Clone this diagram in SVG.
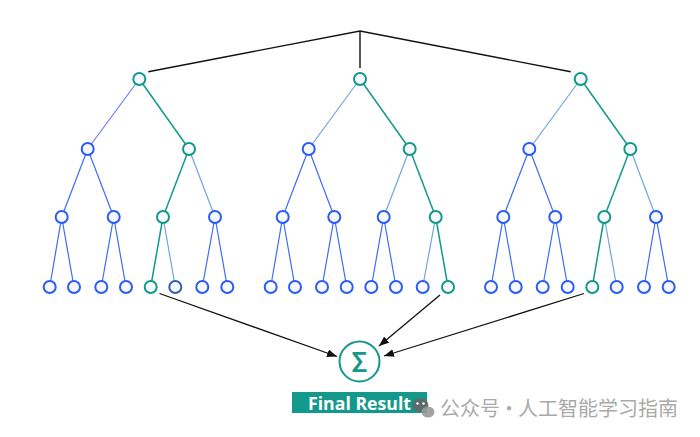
<svg xmlns="http://www.w3.org/2000/svg" width="700" height="437" viewBox="0 0 700 437">
<defs>
<marker id="ah" viewBox="0 0 10 8" refX="10" refY="4" markerWidth="10" markerHeight="8" markerUnits="userSpaceOnUse" orient="auto">
<path d="M0,0 L10,4 L0,8 Z" fill="#111"/>
</marker>
<style>
.n{fill:#f8f9fc;stroke:#2a5cf6;stroke-width:2}
.g{fill:#f8f9fc;stroke:#12998b;stroke-width:2}
.e{stroke:#3d6ef2;stroke-width:1.2;fill:none}
.l{stroke:#6ea6de;stroke-width:1.2;fill:none}
.p{stroke:#6f7cf5;stroke-width:1.2;fill:none}
.t{stroke:#12998b;stroke-width:1.5;fill:none}
.k{stroke:#111;stroke-width:1.4;fill:none}
.a{stroke:#111;stroke-width:1.3;fill:none;marker-end:url(#ah)}
.w{font-family:"Noto Sans CJK SC",sans-serif;font-size:20px;fill:#aaa;word-spacing:-5.5px}
</style>
</defs>
<rect width="700" height="437" fill="#fff"/>
<g id="connectors">
<polyline class="k" points="148.3,71.7 360,31 570.7,71.7"/>
<line class="k" x1="360" y1="31" x2="360" y2="68"/>
<!-- tree 1 -->
<line class="p" x1="139.3" y1="79" x2="87.7" y2="149"/>
<line class="t" x1="139.3" y1="79" x2="189" y2="149"/>
<line class="e" x1="87.7" y1="149" x2="61.7" y2="217"/>
<line class="e" x1="87.7" y1="149" x2="113.7" y2="217"/>
<line class="t" x1="189" y1="149" x2="163" y2="217"/>
<line class="l" x1="189" y1="149" x2="215" y2="217"/>
<line class="e" x1="61.7" y1="217" x2="49.7" y2="287"/>
<line class="e" x1="61.7" y1="217" x2="74" y2="287"/>
<line class="e" x1="113.7" y1="217" x2="101.3" y2="287"/>
<line class="e" x1="113.7" y1="217" x2="126" y2="287"/>
<line class="t" x1="163" y1="217" x2="150.7" y2="287"/>
<line class="l" x1="163" y1="217" x2="175.3" y2="287"/>
<line class="e" x1="215" y1="217" x2="202.3" y2="287"/>
<line class="e" x1="215" y1="217" x2="227.3" y2="287"/>
<!-- tree 2 -->
<line class="l" x1="360" y1="79" x2="308.7" y2="149"/>
<line class="t" x1="360" y1="79" x2="409.7" y2="149"/>
<line class="e" x1="308.7" y1="149" x2="282.7" y2="217"/>
<line class="e" x1="308.7" y1="149" x2="334.3" y2="217"/>
<line class="l" x1="409.7" y1="149" x2="383.7" y2="217"/>
<line class="t" x1="409.7" y1="149" x2="435.7" y2="217"/>
<line class="e" x1="282.7" y1="217" x2="270.7" y2="287"/>
<line class="e" x1="282.7" y1="217" x2="295" y2="287"/>
<line class="e" x1="334.3" y1="217" x2="322" y2="287"/>
<line class="e" x1="334.3" y1="217" x2="346.7" y2="287"/>
<line class="e" x1="383.7" y1="217" x2="371.3" y2="287"/>
<line class="e" x1="383.7" y1="217" x2="396" y2="287"/>
<line class="l" x1="435.7" y1="217" x2="422.7" y2="287"/>
<line class="t" x1="435.7" y1="217" x2="448" y2="287"/>
<!-- tree 3 -->
<line class="l" x1="580.7" y1="79" x2="529.3" y2="149"/>
<line class="t" x1="580.7" y1="79" x2="630.3" y2="149"/>
<line class="e" x1="529.3" y1="149" x2="503.3" y2="217"/>
<line class="e" x1="529.3" y1="149" x2="555.3" y2="217"/>
<line class="t" x1="630.3" y1="149" x2="604.3" y2="217"/>
<line class="l" x1="630.3" y1="149" x2="656" y2="217"/>
<line class="e" x1="503.3" y1="217" x2="491" y2="287"/>
<line class="e" x1="503.3" y1="217" x2="515.7" y2="287"/>
<line class="e" x1="555.3" y1="217" x2="542.7" y2="287"/>
<line class="e" x1="555.3" y1="217" x2="567.7" y2="287"/>
<line class="t" x1="604.3" y1="217" x2="592.3" y2="287"/>
<line class="l" x1="604.3" y1="217" x2="616.7" y2="287"/>
<line class="e" x1="656" y1="217" x2="644" y2="287"/>
<line class="e" x1="656" y1="217" x2="668.7" y2="287"/>
<!-- arrows to sum -->
<line class="a" x1="159.5" y1="293.5" x2="337" y2="356.5"/>
<line class="a" x1="440" y1="295" x2="379" y2="346"/>
<line class="a" x1="584" y1="293.5" x2="384" y2="356"/>
</g>
<g id="tree1">
<circle class="g" cx="139.3" cy="79" r="6"/>
<circle class="n" cx="87.7" cy="149" r="6"/>
<circle class="g" cx="189" cy="149" r="6"/>
<circle class="n" cx="61.7" cy="217" r="6"/>
<circle class="n" cx="113.7" cy="217" r="6"/>
<circle class="g" cx="163" cy="217" r="6"/>
<circle class="n" cx="215" cy="217" r="6"/>
<circle class="n" cx="49.7" cy="287" r="6"/>
<circle class="n" cx="74" cy="287" r="6"/>
<circle class="n" cx="101.3" cy="287" r="6"/>
<circle class="n" cx="126" cy="287" r="6"/>
<circle class="g" cx="150.7" cy="287" r="6"/>
<circle class="n" cx="175.3" cy="287" r="6" style="stroke:#2d62ae"/>
<circle class="n" cx="202.3" cy="287" r="6"/>
<circle class="n" cx="227.3" cy="287" r="6"/>
</g>
<g id="tree2">
<circle class="g" cx="360" cy="79" r="6"/>
<circle class="n" cx="308.7" cy="149" r="6"/>
<circle class="g" cx="409.7" cy="149" r="6"/>
<circle class="n" cx="282.7" cy="217" r="6"/>
<circle class="n" cx="334.3" cy="217" r="6"/>
<circle class="n" cx="383.7" cy="217" r="6"/>
<circle class="g" cx="435.7" cy="217" r="6"/>
<circle class="n" cx="270.7" cy="287" r="6"/>
<circle class="n" cx="295" cy="287" r="6"/>
<circle class="n" cx="322" cy="287" r="6"/>
<circle class="n" cx="346.7" cy="287" r="6"/>
<circle class="n" cx="371.3" cy="287" r="6"/>
<circle class="n" cx="396" cy="287" r="6"/>
<circle class="n" cx="422.7" cy="287" r="6"/>
<circle class="g" cx="448" cy="287" r="6"/>
</g>
<g id="tree3">
<circle class="g" cx="580.7" cy="79" r="6"/>
<circle class="n" cx="529.3" cy="149" r="6"/>
<circle class="g" cx="630.3" cy="149" r="6"/>
<circle class="n" cx="503.3" cy="217" r="6"/>
<circle class="n" cx="555.3" cy="217" r="6"/>
<circle class="g" cx="604.3" cy="217" r="6"/>
<circle class="n" cx="656" cy="217" r="6"/>
<circle class="n" cx="491" cy="287" r="6"/>
<circle class="n" cx="515.7" cy="287" r="6"/>
<circle class="n" cx="542.7" cy="287" r="6"/>
<circle class="n" cx="567.7" cy="287" r="6"/>
<circle class="g" cx="592.3" cy="287" r="6"/>
<circle class="n" cx="616.7" cy="287" r="6"/>
<circle class="n" cx="644" cy="287" r="6"/>
<circle class="n" cx="668.7" cy="287" r="6"/>
</g>
<g id="sum">
<circle cx="359.5" cy="361.5" r="20" fill="#fff" stroke="#12998b" stroke-width="2"/>
<text x="359.5" y="371.5" text-anchor="middle" font-family="Roboto, Liberation Sans, sans-serif" font-weight="500" font-size="28" fill="#12998b">Σ</text>
</g>
<g id="final-result">
<rect x="292" y="392" width="135" height="21" fill="#13998b"/>
<text x="308" y="410" font-family="Open Sans, Liberation Sans, sans-serif" font-weight="bold" font-size="17" fill="#fff" textLength="103" lengthAdjust="spacingAndGlyphs">Final Result</text>
</g>
<g id="watermark">
<ellipse cx="420.5" cy="405" rx="8" ry="7" fill="#666" opacity="0.9"/>
<ellipse cx="428" cy="412" rx="6.5" ry="5.5" fill="#999" opacity="0.9"/>
<circle cx="417.5" cy="403.5" r="1.2" fill="#fff"/>
<circle cx="423.5" cy="403.5" r="1.2" fill="#fff"/>
<text class="w" x="440" y="416">公众号 · 人工智能学习指南</text>
</g>
</svg>
